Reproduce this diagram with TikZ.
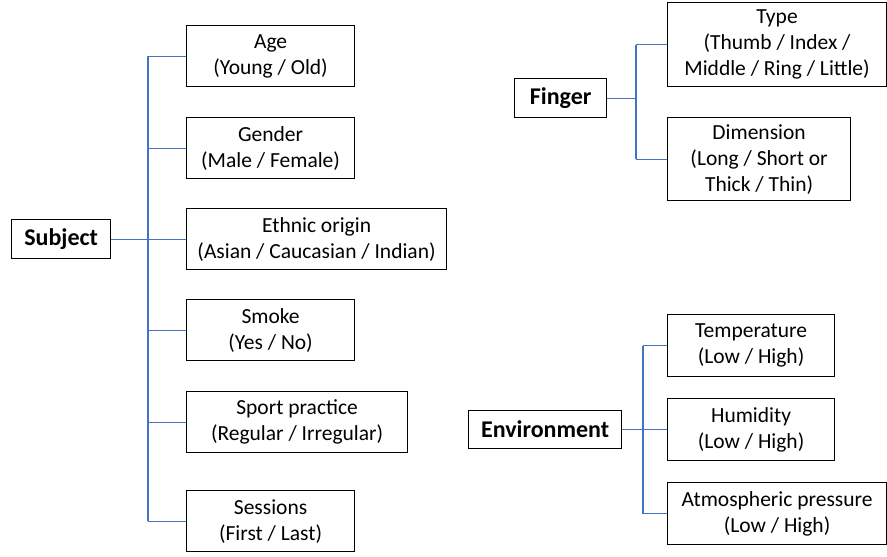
\documentclass[tikz,border=0pt]{standalone}
\usepackage{fontspec}
\setmainfont{Carlito}
\begin{document}
\begin{tikzpicture}[x=1pt,y=-1pt,
  leaf/.style={draw=black,line width=1.2pt,inner sep=0pt,align=center,
    font=\fontsize{21.5}{26}\selectfont,anchor=north west},
  root/.style={draw=black,line width=1.2pt,inner sep=0pt,align=center,
    font=\fontsize{24}{28}\selectfont\bfseries,anchor=north west},
  link/.style={draw={rgb,255:red,68;green,114;blue,196},line width=1.2pt}]
\useasboundingbox (0,0) rectangle (887,557);
% Subject group
\node[root,minimum width=99pt,minimum height=39pt] (subj) at (11,219) {Subject};
\node[leaf,minimum width=168pt,minimum height=61pt] (age) at (186,25) {Age\\(Young / Old)};
\node[leaf,minimum width=168pt,minimum height=61pt] (gen) at (186,117) {Gender\\(Male / Female)};
\node[leaf,minimum width=260pt,minimum height=61pt] (eth) at (186,208) {Ethnic origin\\(Asian / Caucasian / Indian)};
\node[leaf,minimum width=168pt,minimum height=61pt] (smk) at (186,299) {Smoke\\(Yes / No)};
\node[leaf,minimum width=221pt,minimum height=61pt] (spt) at (186,391) {Sport practice\\(Regular / Irregular)};
\node[leaf,minimum width=168pt,minimum height=61pt] (ses) at (186,490) {Sessions\\(First / Last)};
\coordinate (sv) at (148,0);
\draw[link] (subj.east) -- (subj.east -| sv);
\draw[link] (age.west -| sv) -- (ses.west -| sv);
\foreach \n in {age,gen,eth,smk,spt,ses} \draw[link] (\n.west) -- (\n.west -| sv);
% Finger group
\node[root,minimum width=92pt,minimum height=39pt] (fin) at (514,78) {Finger};
\node[leaf,minimum width=219pt,minimum height=84pt] (typ) at (667,2) {Type\\(Thumb / Index /\\Middle / Ring / Little)};
\node[leaf,minimum width=183pt,minimum height=83pt] (dim) at (667,117) {Dimension\\(Long / Short or\\Thick / Thin)};
\coordinate (fv) at (636,0);
\draw[link] (fin.east) -- (fin.east -| fv);
\draw[link] (typ.west -| fv) -- (dim.west -| fv);
\foreach \n in {typ,dim} \draw[link] (\n.west) -- (\n.west -| fv);
% Environment group
\node[root,minimum width=153pt,minimum height=38pt] (env) at (468,410) {Environment};
\node[leaf,minimum width=167pt,minimum height=62pt] (tmp) at (667,314) {Temperature\\(Low / High)};
\node[leaf,minimum width=167pt,minimum height=62pt] (hum) at (667,398) {Humidity\\(Low / High)};
\node[leaf,minimum width=219pt,minimum height=62pt] (atm) at (667,482) {Atmospheric pressure\\(Low / High)};
\coordinate (ev) at (643,0);
\draw[link] (env.east) -- (env.east -| ev);
\draw[link] (tmp.west -| ev) -- (atm.west -| ev);
\foreach \n in {tmp,hum,atm} \draw[link] (\n.west) -- (\n.west -| ev);
\end{tikzpicture}
\end{document}
